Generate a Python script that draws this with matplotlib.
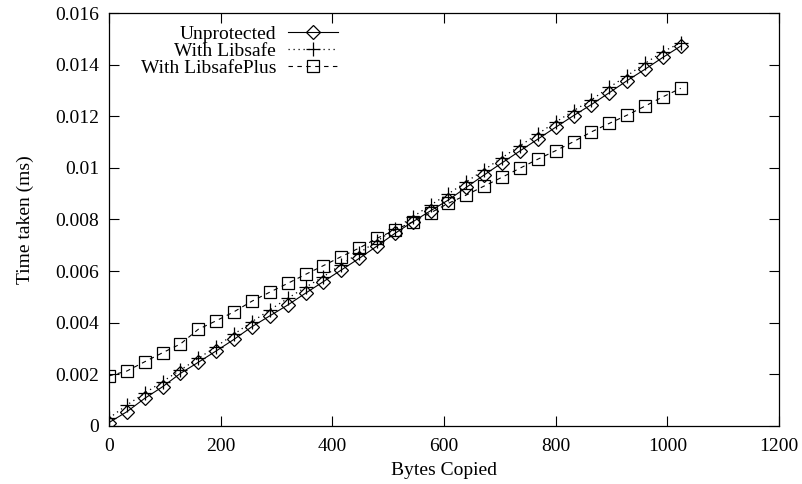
import matplotlib as mpl
import matplotlib.pyplot as plt
from matplotlib.ticker import FixedLocator, FixedFormatter

# bytes copied, sampled every 32 bytes
BYTES = list(range(0, 1025, 32))

UNPROTECTED = [
    0.00012, 0.00054, 0.00106, 0.00151, 0.00203, 0.00246, 0.00290, 0.00335,
    0.00384, 0.00426, 0.00468, 0.00514, 0.00559, 0.00604, 0.00649, 0.00697,
    0.00746, 0.00791, 0.00834, 0.00876, 0.00925, 0.00973, 0.01020, 0.01066,
    0.01112, 0.01158, 0.01203, 0.01246, 0.01292, 0.01339, 0.01383, 0.01429,
    0.01473,
]
LIBSAFE = [
    0.00029, 0.00080, 0.00126, 0.00171, 0.00216, 0.00261, 0.00307, 0.00355,
    0.00403, 0.00449, 0.00494, 0.00537, 0.00578, 0.00625, 0.00670, 0.00716,
    0.00763, 0.00810, 0.00856, 0.00900, 0.00946, 0.00993, 0.01040, 0.01086,
    0.01132, 0.01178, 0.01222, 0.01264, 0.01313, 0.01358, 0.01406, 0.01451,
    0.01486,
]
LIBSAFE_PLUS = [
    0.00193, 0.00212, 0.00248, 0.00283, 0.00317, 0.00374, 0.00407, 0.00442,
    0.00483, 0.00518, 0.00552, 0.00587, 0.00621, 0.00656, 0.00689, 0.00727,
    0.00759, 0.00791, 0.00826, 0.00863, 0.00895, 0.00930, 0.00964, 0.00999,
    0.01034, 0.01067, 0.01102, 0.01140, 0.01173, 0.01205, 0.01240, 0.01276,
    0.01309,
]
SERIES_LABELS = ["Unprotected", "With Libsafe", "With LibsafePlus"]

X_TICKS = [0, 200, 400, 600, 800, 1000, 1200]
Y_TICKS = [0, 0.002, 0.004, 0.006, 0.008, 0.010, 0.012, 0.014, 0.016]
Y_TICK_LABELS = ["0", "0.002", "0.004", "0.006", "0.008", "0.01", "0.012", "0.014", "0.016"]


def configure_style() -> None:
    mpl.rcParams.update(
        {
            "font.family": ["Liberation Serif", "DejaVu Serif"],
            "font.size": 14,
            "axes.linewidth": 0.9,
            "xtick.direction": "in",
            "ytick.direction": "in",
            "xtick.top": True,
            "ytick.right": True,
            "xtick.major.size": 7,
            "ytick.major.size": 7,
            "xtick.major.width": 0.8,
            "ytick.major.width": 0.8,
            "xtick.major.pad": 9,
            "ytick.major.pad": 7,
            "figure.facecolor": "white",
            "axes.facecolor": "white",
        }
    )


def main() -> None:
    configure_style()
    fig = plt.figure(figsize=(8.03, 4.84), dpi=100)
    ax = fig.add_axes([0.1357, 0.1205, 0.8345, 0.852])

    ax.plot(BYTES, UNPROTECTED, color="black", linewidth=0.8, linestyle="-",
            marker="D", markersize=7, fillstyle="none", markeredgewidth=0.9,
            label=SERIES_LABELS[0])
    ax.plot(BYTES, LIBSAFE, color="black", linewidth=0.9, linestyle=(0, (1, 3)),
            marker="+", markersize=10, markeredgewidth=0.9,
            label=SERIES_LABELS[1])
    ax.plot(BYTES, LIBSAFE_PLUS, color="black", linewidth=0.8, linestyle=(0, (4, 4)),
            marker="s", markersize=8.5, fillstyle="none", markeredgewidth=0.9,
            label=SERIES_LABELS[2])

    ax.set_xlim(0, 1200)
    ax.set_ylim(0, 0.016)
    ax.xaxis.set_major_locator(FixedLocator(X_TICKS))
    ax.yaxis.set_major_locator(FixedLocator(Y_TICKS))
    ax.yaxis.set_major_formatter(FixedFormatter(Y_TICK_LABELS))

    ax.set_xlabel("Bytes Copied", labelpad=5)
    ax.set_ylabel("Time taken (ms)", labelpad=15)

    ax.legend(
        loc="upper left",
        bbox_to_anchor=(0.03, 1.0),
        frameon=False,
        markerfirst=False,
        numpoints=1,
        handlelength=2.6,
        handletextpad=0.6,
        labelspacing=-0.03,
        borderaxespad=0.2,
        fontsize=14,
    )
    for txt in ax.get_legend().get_texts():
        txt.set_ha("right")

    fig.savefig("out.png", dpi=100)
    plt.close(fig)


if __name__ == "__main__":
    main()
